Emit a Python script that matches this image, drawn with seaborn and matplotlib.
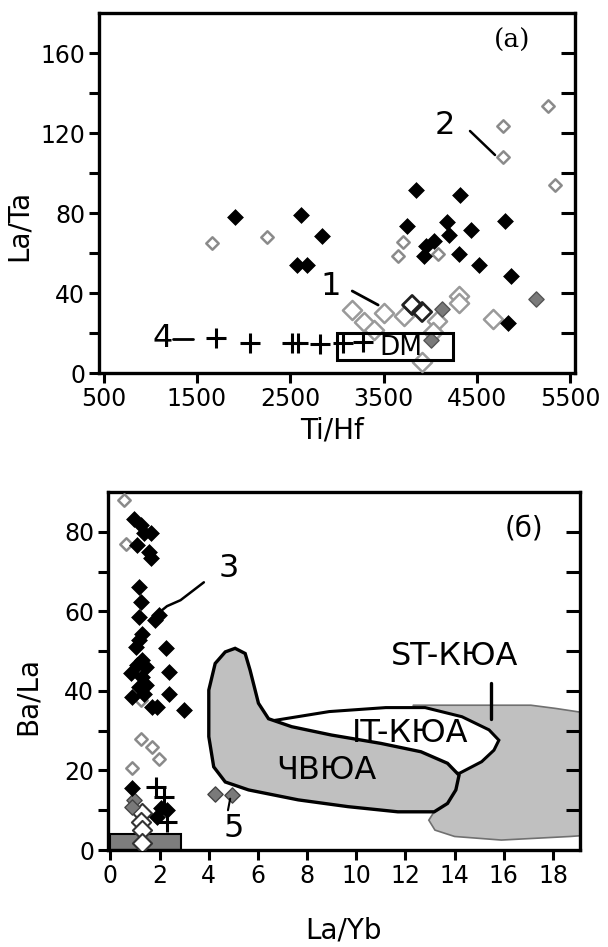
import numpy as np
import pandas as pd
import matplotlib
matplotlib.use("Agg")
import matplotlib.pyplot as plt
from matplotlib.patches import Polygon, Rectangle
import seaborn as sns

# ---------------- data: panel (a) ----------------
a_black_x = [1912, 2613, 2840, 2572, 2675, 3842, 4317, 3748, 4181, 4201, 4436, 4799,
             3954, 4036, 3933, 4304, 4523, 4861, 4832]
a_black_y = [78, 79, 68.7, 54, 54, 91.3, 89, 73.7, 75.3, 69, 71.7, 75.8,
             63.7, 65.8, 58.3, 59.7, 54.2, 48.7, 25]
a_open_small_x = [1657, 2251, 4779, 4779, 5261, 5335, 3706, 3653, 4078]
a_open_small_y = [65, 68, 123.3, 108, 133.7, 94.2, 65.3, 58.3, 59.7]
a_open_big_x = [3165, 3290, 3505, 3715, 4075, 4305, 4310, 4675, 3915, 4030, 3400]
a_open_big_y = [31.7, 25.6, 30.2, 28.6, 25.8, 38.5, 35.0, 27.0, 5.3, 20.5, 21.5]
a_dark_open_x = [3805, 3912]
a_dark_open_y = [34.0, 30.5]
a_gray_x = [4120, 5130, 4010]
a_gray_y = [32.0, 37.0, 16.5]
a_cross_x = [1700, 2072, 2521, 2586, 2821, 3067, 3281]
a_cross_y = [17.5, 15.0, 14.8, 14.8, 14.5, 15.0, 15.5]
a_xticks = [500, 1500, 2500, 3500, 4500, 5500]
a_yticks = [0, 40, 80, 120, 160]

# ---------------- data: panel (б) ----------------
b_black_x = [0.96, 1.23, 1.36, 1.63, 1.09, 1.57, 1.63, 1.16, 1.23, 1.16, 1.83, 1.97,
             1.30, 1.16, 1.03, 2.24, 1.30, 1.09, 1.43, 0.82, 1.30, 2.38, 1.16, 1.43,
             0.89, 1.36, 2.38, 1.70, 1.90, 2.98, 0.89, 2.04, 2.30, 1.90]
b_black_y = [83.3, 81.7, 79.6, 79.6, 76.6, 75.0, 73.3, 66.2, 62.4, 58.6, 57.8, 59.0,
             54.4, 52.8, 51.0, 50.7, 47.7, 46.5, 46.0, 44.4, 43.5, 44.8, 41.0, 41.5,
             38.5, 39.3, 39.3, 36.0, 36.0, 35.2, 15.5, 10.5, 10.0, 8.4]
b_open_small_x = [0.55, 0.62, 1.23, 1.23, 1.70, 1.97, 0.89]
b_open_small_y = [88.0, 77.0, 37.7, 28.0, 26.0, 23.0, 20.5]
b_open_big_x = [1.30, 1.23, 1.30, 1.30]
b_open_big_y = [9.2, 7.1, 5.0, 1.7]
b_gray_x = [0.96, 0.89, 4.26, 4.94]
b_gray_y = [12.6, 10.9, 14.2, 13.8]
b_cross_x = [1.84, 2.17, 2.30]
b_cross_y = [15.9, 13.4, 7.1]
b_xticks = [0, 2, 4, 6, 8, 10, 12, 14, 16, 18]
b_yticks = [0, 20, 40, 60, 80]

# region outlines (La/Yb, Ba/La)
chv_x = [4.0, 4.26, 4.67, 5.07, 5.48, 5.68, 6.02, 6.43, 7.37, 8.99, 11.0, 12.63, 13.71,
         14.18, 14.05, 13.71, 13.17, 11.69, 9.66, 7.64, 5.62, 4.67, 4.2, 4.0]
chv_y = [40.2, 46.9, 49.8, 50.7, 49.4, 45.2, 36.9, 33.0, 31.0, 28.9, 26.8, 24.7, 21.8,
         18.8, 15.1, 11.7, 9.6, 9.6, 10.9, 12.6, 15.1, 17.1, 20.9, 28.5]
it_x = [6.3, 8.9, 11.2, 12.8, 14.3, 15.4, 15.8, 15.6, 15.1, 14.2, 13.0, 9.0, 6.5]
it_y = [32.2, 34.8, 35.8, 35.8, 33.5, 30.2, 27.6, 25.1, 22.2, 19.3, 19.0, 24.0, 30.0]
st_x = [12.3, 17.1, 18.1, 19.6, 19.6, 18.7, 15.9, 14.0, 13.2, 12.95, 13.3, 13.5]
st_y = [36.4, 36.4, 35.6, 34.2, 3.8, 3.4, 2.5, 3.4, 5.0, 7.5, 10.9, 30.0]

# ---------------- figure ----------------
sns.set_style("ticks")
plt.rcParams['font.family'] = ['DejaVu Sans']
plt.rcParams['text.color'] = 'black'
plt.rcParams['axes.labelcolor'] = 'black'
plt.rcParams['xtick.color'] = 'black'
plt.rcParams['ytick.color'] = 'black'
fig = plt.figure(figsize=(6.08, 9.47), dpi=100)
ax1 = fig.add_axes([99 / 608, 1 - 373 / 947, 476 / 608, 360 / 947])
ax2 = fig.add_axes([108 / 608, 1 - 850 / 947, 472 / 608, 358 / 947])

TICK_FS = 17
LAB_FS = 20
NUM_FS = 23


def style_axes(ax, major, minor_step, xticks):
    for s in ax.spines.values():
        s.set_linewidth(2.4)
        s.set_color('black')
        s.set_visible(True)
    ax.set_xticks(xticks)
    ax.set_yticks(major)
    ax.tick_params(axis='both', which='major', direction='out', length=7, width=2.2,
                   labelsize=TICK_FS, colors='black', labelcolor='black', pad=3)
    ax.tick_params(axis='y', which='both', left=True, right=False)
    ylo, yhi = ax.get_ylim()
    tw = ax.twinx()
    tw.set_ylim(ylo, yhi)
    tw.set_yticks(np.arange(minor_step, yhi, minor_step))
    tw.tick_params(axis='y', direction='in', length=10, width=2.2, labelright=False,
                   colors='black')
    for s in tw.spines.values():
        s.set_visible(False)
    ax.set_yticks(np.arange(0, yhi, minor_step), minor=True)
    ax.tick_params(axis='y', which='minor', direction='out', length=7, width=2.2,
                   colors='black')


def scatter(ax, x, y, **kw):
    df = pd.DataFrame({"x": x, "y": y})
    sns.scatterplot(data=df, x="x", y="y", ax=ax, legend=False, **kw)


# ---------- panel (a) ----------
ax1.set_xlim(450, 5550)
ax1.set_ylim(0, 180)
scatter(ax1, a_open_big_x, a_open_big_y, marker='D', s=95, facecolor='white',
        edgecolor='#9a9a9a', linewidth=1.8, zorder=3)
scatter(ax1, a_dark_open_x, a_dark_open_y, marker='D', s=95, facecolor='none',
        edgecolor='#202020', linewidth=2.0, zorder=3)
scatter(ax1, a_gray_x, a_gray_y, marker='D', s=60, color='#7a7a7a',
        edgecolor='#555555', linewidth=1.0, zorder=3)
scatter(ax1, a_open_small_x, a_open_small_y, marker='D', s=40, facecolor='white',
        edgecolor='#8a8a8a', linewidth=1.8, zorder=4)
scatter(ax1, a_black_x, a_black_y, marker='D', s=65, color='black',
        edgecolor='black', linewidth=0.5, zorder=4)
scatter(ax1, a_cross_x, a_cross_y, marker='+', s=200, color='black', linewidth=2.2, zorder=4)
ax1.add_patch(Rectangle((3000, 6.3), 1240, 13.7, fill=False, edgecolor='black',
                        linewidth=2.2, zorder=5))
ax1.text(3690, 12.5, "DM", fontsize=19, ha='center', va='center', zorder=6)
ax1.plot([1240, 1460], [17, 17], color='black', lw=2, zorder=5)
ax1.text(1130, 17.5, "4", fontsize=NUM_FS, ha='center', va='center')
ax1.plot([3163, 3441], [41, 34], color='black', lw=2, zorder=5)
ax1.text(2928, 43.5, "1", fontsize=NUM_FS, ha='center', va='center')
ax1.plot([4425, 4693], [121, 109], color='black', lw=1.8, zorder=5)
ax1.text(4158, 124, "2", fontsize=NUM_FS, ha='center', va='center')
ax1.text(4880, 166.5, "(a)", fontsize=19, ha='center', va='center',
         family=['DejaVu Serif'])
ax1.set_xlabel("Ti/Hf", fontsize=LAB_FS)
ax1.set_ylabel("La/Ta", fontsize=LAB_FS)
ax1.xaxis.set_label_coords(0.49, -0.12)
ax1.yaxis.set_label_coords(-0.14, 0.41)
style_axes(ax1, a_yticks, 20, a_xticks)

# ---------- panel (б) ----------
ax2.set_xlim(-0.1, 19.1)
ax2.set_ylim(0, 90)
ax2.add_patch(Polygon(np.column_stack([st_x, st_y]), closed=True, facecolor='#c0c0c0',
                      edgecolor='#707070', linewidth=1.2, zorder=1))
ax2.add_patch(Polygon(np.column_stack([it_x, it_y]), closed=True, facecolor='white',
                      edgecolor='black', linewidth=2.2, zorder=1.5))
ax2.add_patch(Polygon(np.column_stack([chv_x, chv_y]), closed=True, facecolor='#c0c0c0',
                      edgecolor='black', linewidth=2.4, zorder=2))
ax2.add_patch(Rectangle((0, 0), 2.85, 4.0, facecolor='#7d7d7d', edgecolor='black',
                        linewidth=1.5, zorder=2))
scatter(ax2, b_open_big_x, b_open_big_y, marker='D', s=95, facecolor='white',
        edgecolor='#333333', linewidth=1.5, zorder=3)
scatter(ax2, b_gray_x, b_gray_y, marker='D', s=60, color='#7a7a7a',
        edgecolor='#444444', linewidth=1.0, zorder=3)
scatter(ax2, b_open_small_x, b_open_small_y, marker='D', s=40, facecolor='white',
        edgecolor='#8a8a8a', linewidth=1.8, zorder=4)
scatter(ax2, b_black_x, b_black_y, marker='D', s=65, color='black',
        edgecolor='black', linewidth=0.5, zorder=4)
scatter(ax2, b_cross_x, b_cross_y, marker='+', s=200, color='black', linewidth=2.2, zorder=4)
ax2.plot([3.8, 2.85, 2.3, 2.1], [67.3, 62.8, 61.3, 60.3], color='black', lw=1.8, zorder=5)
ax2.text(4.8, 70.7, "3", fontsize=NUM_FS, ha='center', va='center')
ax2.plot([4.87, 4.78], [12.9, 10.0], color='black', lw=1.5, zorder=5)
ax2.text(5.0, 5.5, "5", fontsize=NUM_FS, ha='center', va='center')
ax2.plot([15.5, 15.5], [33, 42], color='black', lw=2.4, zorder=5)
ax2.text(14.0, 48.6, "ST-КЮА", fontsize=NUM_FS, ha='center', va='center', zorder=6)
ax2.text(12.2, 29.3, "IT-КЮА", fontsize=NUM_FS, ha='center', va='center', zorder=6)
ax2.text(8.8, 20.1, "ЧВЮА", fontsize=NUM_FS, ha='center', va='center', zorder=6)
ax2.text(16.8, 80.8, "(б)", fontsize=20, ha='center', va='center')
ax2.set_xlabel("La/Yb", fontsize=LAB_FS)
ax2.set_ylabel("Ba/La", fontsize=LAB_FS)
ax2.xaxis.set_label_coords(0.5, -0.185)
ax2.yaxis.set_label_coords(-0.14, 0.43)
style_axes(ax2, b_yticks, 10, b_xticks)

fig.savefig("out.png", dpi=100)
